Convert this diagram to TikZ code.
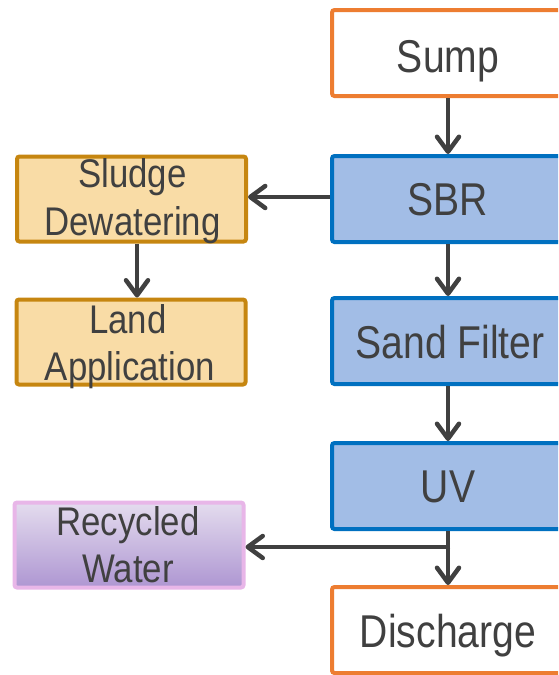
\documentclass[tikz,border=0pt]{standalone}
\usepackage{fontspec}
\usetikzlibrary{arrows.meta}
\newfontfamily\mainfont[FakeStretch=0.85]{Liberation Sans}
\newfontfamily\sidefont[FakeStretch=0.87]{Liberation Sans}

\definecolor{edgeorange}{RGB}{237,125,49}
\definecolor{edgeblue}{RGB}{0,112,192}
\definecolor{fillblue}{RGB}{162,189,230}
\definecolor{filltan}{RGB}{249,220,166}
\definecolor{edgetan}{RGB}{198,134,16}
\definecolor{edgepink}{RGB}{232,182,232}
\definecolor{lavtop}{RGB}{228,220,238}
\definecolor{lavbottom}{RGB}{174,150,210}
\definecolor{ink}{RGB}{64,64,64}

\tikzset{
  box/.style={draw, line width=4pt, rounded corners=2.5pt, inner sep=0pt},
  mainbox/.style={box, minimum width=232pt, minimum height=86pt},
  sidebox/.style={box, minimum width=229pt, minimum height=85pt},
  endpoint/.style={mainbox, draw=edgeorange, fill=white},
  stage/.style={mainbox, draw=edgeblue, fill=fillblue},
  solids/.style={sidebox, draw=edgetan, fill=filltan},
  reuse/.style={sidebox, draw=edgepink, top color=lavtop, bottom color=lavbottom},
  bigtext/.style={anchor=base, inner sep=0pt, text=ink, font=\mainfont\fontsize{46pt}{48pt}\selectfont},
  smalltext/.style={anchor=base, inner sep=0pt, text=ink, font=\sidefont\fontsize{40pt}{47pt}\selectfont},
  flow/.style={draw=ink, line width=4.5pt,
    -{Straight Barb[length=15pt, width=22pt, round]}},
}

\begin{document}
\begin{tikzpicture}[x=1pt, y=-1pt]
  \useasboundingbox (0,0) rectangle (558,675);
  \clip (0,0) rectangle (558,675);

  % main treatment train
  \node[endpoint] (sump)      at (448,53)  {};
  \node[stage]    (sbr)       at (448,199) {};
  \node[stage]    (sand)      at (448,341) {};
  \node[stage]    (uv)        at (448,486) {};
  \node[endpoint] (discharge) at (448,630) {};

  % side streams
  \node[solids] (sludge)   at (131.5,199) {};
  \node[solids] (land)     at (131,342)   {};
  \node[reuse]  (recycled) at (129,545)   {};

  % labels of the main train
  \node[bigtext] (t-sump)      at ([yshift=-19pt]sump.center)      {Sump};
  \node[bigtext] (t-sbr)       at ([yshift=-16pt]sbr.center)       {SBR};
  \node[bigtext] (t-sand)      at ([xshift=2pt,yshift=-17pt]sand.center) {Sand Filter};
  \node[bigtext] (t-uv)        at ([yshift=-16pt]uv.center)        {UV};
  \node[bigtext] (t-discharge) at ([yshift=-17pt]discharge.center) {Discharge};

  % labels of the side streams
  \node[smalltext] (t-sludge-a) at ([xshift=1pt,yshift=12pt]sludge.center)  {Sludge};
  \node[smalltext] (t-sludge-b) at ([xshift=1pt,yshift=-36pt]sludge.center) {Dewatering};
  \node[smalltext] (t-land-a)   at ([xshift=-3pt,yshift=9pt]land.center)    {Land};
  \node[smalltext] (t-land-b)   at ([xshift=-1pt,yshift=-38pt]land.center)  {Application};
  \node[smalltext] (t-rec-a)    at ([xshift=-1pt,yshift=10pt]recycled.center)  {Recycled};
  \node[smalltext] (t-rec-b)    at ([xshift=-1pt,yshift=-37pt]recycled.center) {Water};

  % connectors
  \coordinate (split) at (448,547);
  \draw[flow] (sump.south) -- (sbr.north);
  \draw[flow] ([yshift=2pt]sbr.west) -- ([yshift=2pt]sbr.west -| sludge.east);
  \draw[flow] ([xshift=5.5pt]sludge.south) -- ([xshift=5.5pt]sludge.south |- land.north);
  \draw[flow] (sbr.south) -- (sand.north);
  \draw[flow] (sand.south) -- (uv.north);
  \draw[flow] (uv.south) -- (discharge.north);
  \draw[flow] ([xshift=2.25pt]split) -- (split -| recycled.east);
\end{tikzpicture}
\end{document}
